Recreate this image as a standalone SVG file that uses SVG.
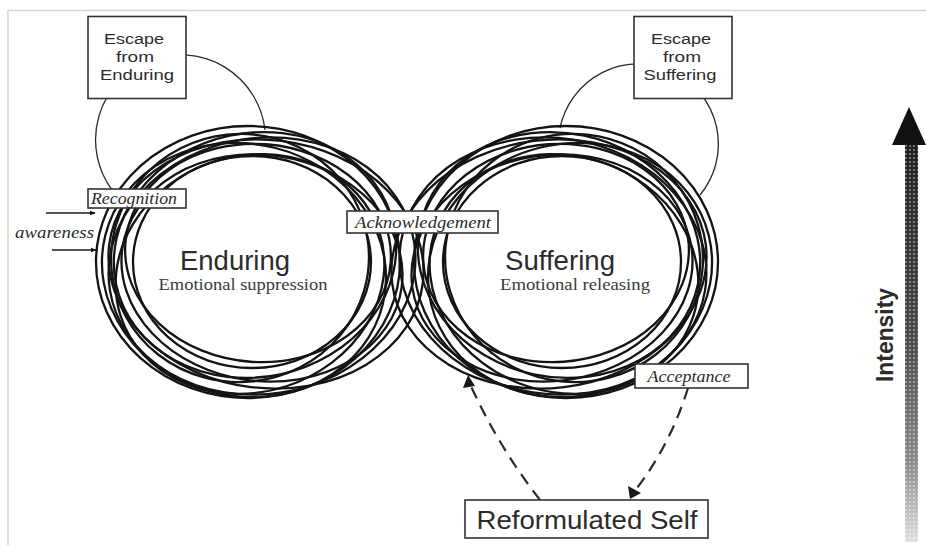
<svg xmlns="http://www.w3.org/2000/svg" width="926" height="545" viewBox="0 0 926 545">
<defs>
<style>
.loop{fill:none;stroke:#141414;stroke-width:2.3}
.thin{fill:none;stroke:#2a2a2a;stroke-width:1.3}
.box{fill:#fff;stroke:#333;stroke-width:1.6}
.sans{font-family:"Liberation Sans",Arial,sans-serif;fill:#2b2b2b}
.esc{font-family:"Liberation Sans",Arial,sans-serif;fill:#2b2b2b;font-size:15.5px}
.ital{font-family:"Liberation Serif","Times New Roman",serif;font-style:italic;fill:#2b2b2b;font-size:16.5px}
.serif{font-family:"Liberation Serif","Times New Roman",serif;fill:#3a3a3a}
.dash{fill:none;stroke:#2a2a2a;stroke-width:2.2;stroke-dasharray:12 8}
</style>
<marker id="ahs" viewBox="0 0 10 10" refX="9" refY="5" markerWidth="6" markerHeight="6" orient="auto" markerUnits="userSpaceOnUse">
<path d="M0,1 L10,5 L0,9 Z" fill="#111"/>
</marker>
<linearGradient id="shade" x1="0" y1="0" x2="0" y2="1">
<stop offset="0" stop-color="#1e1e1e"/>
<stop offset="0.5" stop-color="#4a4a4a"/>
<stop offset="0.8" stop-color="#8a8a8a"/>
<stop offset="1" stop-color="#e0e0e0"/>
</linearGradient>
<pattern id="dots" width="4" height="4" patternUnits="userSpaceOnUse">
<circle cx="2" cy="2" r="1.1" fill="#fff" fill-opacity="0.45"/>
</pattern>
</defs>
<rect width="926" height="545" fill="#fff"/>
<path d="M8,545 V10.5 H926" fill="none" stroke="#dcd3cf" stroke-width="1.5"/>

<g id="connectors">
<path class="thin" d="M112,190 A85,85 0 1 1 265,130"/>
<path class="thin" d="M560,128 A80,80 0 1 1 700,195"/>
<line x1="46" y1="213" x2="95" y2="213" stroke="#1a1a1a" stroke-width="1.6" marker-end="url(#ahs)"/>
<line x1="52" y1="250" x2="96" y2="250" stroke="#1a1a1a" stroke-width="1.6" marker-end="url(#ahs)"/>
<path class="dash" d="M540,500 Q498,446 470,384"/>
<path d="M463,388 L468,375 L475,386 Z" fill="#1a1a1a"/>
<path class="dash" d="M688,388 Q670,446 634,492"/>
<path d="M628,486 L630,499 L641,493 Z" fill="#1a1a1a"/>
</g>

<g id="enduring-loop">
<ellipse class="loop" cx="248" cy="262" rx="152" ry="136"/>
<ellipse class="loop" cx="255" cy="255" rx="142" ry="122" transform="rotate(-12 255 255)"/>
<ellipse class="loop" cx="244" cy="270" rx="143" ry="126" transform="rotate(14 244 270)"/>
<ellipse class="loop" cx="262" cy="268" rx="141" ry="113" transform="rotate(8 262 268)"/>
<ellipse class="loop" cx="240" cy="258" rx="129" ry="124" transform="rotate(-6 240 258)"/>
<ellipse class="loop" cx="250" cy="274" rx="136" ry="118" transform="rotate(-18 250 274)"/>
<ellipse class="loop" cx="258" cy="253" rx="133" ry="109" transform="rotate(4 258 253)"/>
<ellipse class="loop" cx="252" cy="262" rx="119" ry="106"/>
<ellipse class="loop" cx="266" cy="264" rx="158" ry="124" transform="rotate(7 266 264)"/>
<ellipse class="loop" cx="262" cy="266" rx="154" ry="128" transform="rotate(-9 262 266)"/>
</g>
<g id="suffering-loop">
<ellipse class="loop" cx="566" cy="262" rx="152" ry="136"/>
<ellipse class="loop" cx="559" cy="255" rx="142" ry="122" transform="rotate(12 559 255)"/>
<ellipse class="loop" cx="570" cy="270" rx="143" ry="126" transform="rotate(-14 570 270)"/>
<ellipse class="loop" cx="552" cy="268" rx="141" ry="113" transform="rotate(-8 552 268)"/>
<ellipse class="loop" cx="574" cy="258" rx="129" ry="124" transform="rotate(6 574 258)"/>
<ellipse class="loop" cx="564" cy="274" rx="136" ry="118" transform="rotate(18 564 274)"/>
<ellipse class="loop" cx="556" cy="253" rx="133" ry="109" transform="rotate(-4 556 253)"/>
<ellipse class="loop" cx="562" cy="262" rx="119" ry="106"/>
<ellipse class="loop" cx="549" cy="264" rx="158" ry="124" transform="rotate(-7 549 264)"/>
<ellipse class="loop" cx="553" cy="266" rx="154" ry="128" transform="rotate(9 553 266)"/>
</g>

<g id="escape-enduring">
<rect class="box" x="88" y="16.5" width="98" height="82"/>
<text class="esc" x="134" y="44" text-anchor="middle" textLength="60" lengthAdjust="spacingAndGlyphs">Escape</text>
<text class="esc" x="135" y="62" text-anchor="middle" textLength="38" lengthAdjust="spacingAndGlyphs">from</text>
<text class="esc" x="137" y="80" text-anchor="middle" textLength="74" lengthAdjust="spacingAndGlyphs">Enduring</text>
</g>
<g id="escape-suffering">
<rect class="box" x="634" y="16.5" width="98" height="82"/>
<text class="esc" x="681" y="44" text-anchor="middle" textLength="60" lengthAdjust="spacingAndGlyphs">Escape</text>
<text class="esc" x="682" y="62" text-anchor="middle" textLength="38" lengthAdjust="spacingAndGlyphs">from</text>
<text class="esc" x="680" y="80" text-anchor="middle" textLength="73" lengthAdjust="spacingAndGlyphs">Suffering</text>
</g>
<g id="recognition">
<rect class="box" x="88" y="189" width="98" height="19"/>
<text class="ital" x="134" y="204" text-anchor="middle" textLength="86" lengthAdjust="spacingAndGlyphs">Recognition</text>
</g>
<g id="awareness">
<text class="ital" x="15" y="238" textLength="79" lengthAdjust="spacingAndGlyphs">awareness</text>
</g>
<g id="acknowledgement">
<rect class="box" x="347" y="211" width="151" height="22"/>
<text class="ital" x="423" y="228" text-anchor="middle" textLength="136" lengthAdjust="spacingAndGlyphs">Acknowledgement</text>
</g>
<g id="acceptance">
<rect class="box" x="635" y="364" width="113" height="24"/>
<text class="ital" x="689" y="382" text-anchor="middle" textLength="83" lengthAdjust="spacingAndGlyphs">Acceptance</text>
</g>
<g id="enduring">
<text class="sans" x="235" y="270" font-size="27" text-anchor="middle" fill="#222" textLength="110" lengthAdjust="spacingAndGlyphs">Enduring</text>
<text class="serif" x="243" y="290" font-size="17" text-anchor="middle" textLength="169" lengthAdjust="spacingAndGlyphs">Emotional suppression</text>
</g>
<g id="suffering">
<text class="sans" x="560" y="270" font-size="27" text-anchor="middle" fill="#222" textLength="110" lengthAdjust="spacingAndGlyphs">Suffering</text>
<text class="serif" x="575" y="290" font-size="17" text-anchor="middle" textLength="150" lengthAdjust="spacingAndGlyphs">Emotional releasing</text>
</g>
<g id="reformulated-self">
<rect class="box" x="465" y="500" width="243" height="38"/>
<text class="sans" x="587" y="529" font-size="25.5" text-anchor="middle" textLength="221" lengthAdjust="spacingAndGlyphs">Reformulated Self</text>
</g>
<g id="intensity">
<rect x="905" y="138" width="13" height="404" fill="url(#shade)"/>
<rect x="905" y="138" width="13" height="404" fill="url(#dots)"/>
<path d="M909,107 L926,145 L892,145 Z" fill="#111"/>
<text class="sans" transform="translate(893 335) rotate(-90)" font-size="23" font-weight="bold" text-anchor="middle" textLength="94" lengthAdjust="spacingAndGlyphs" fill="#333">Intensity</text>
</g>
</svg>
